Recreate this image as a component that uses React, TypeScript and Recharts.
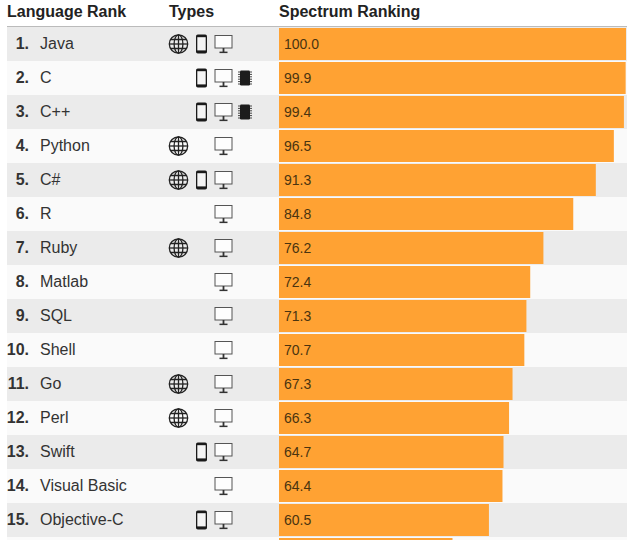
import React from 'react';
import { BarChart, Bar, XAxis, YAxis, LabelList, Customized } from 'recharts';

const languages = ['Java','C','C++','Python','C#','R','Ruby','Matlab','SQL','Shell','Go','Perl','Swift','Visual Basic','Objective-C',''];
const scores = [100.0,99.9,99.4,96.5,91.3,84.8,76.2,72.4,71.3,70.7,67.3,66.3,64.7,64.4,60.5,50.0];
const webFlags = [1,0,0,1,1,0,1,0,0,0,1,1,0,0,0,0];
const mobileFlags = [1,1,1,0,1,0,0,0,0,0,0,0,1,0,1,0];
const desktopFlags = [1,1,1,1,1,1,1,1,1,1,1,1,1,1,1,0];
const chipFlags = [0,1,1,0,0,0,0,0,0,0,0,0,0,0,0,0];
const headers = [
  { label: 'Language Rank', x: 7 },
  { label: 'Types', x: 169 },
  { label: 'Spectrum Ranking', x: 279 },
];

const rows = languages.map((name, i) => ({
  key: String(i + 1), rank: i + 1, name, score: scores[i],
  valueLabel: name ? scores[i].toFixed(1) : '',
  web: webFlags[i], mobile: mobileFlags[i], desktop: desktopFlags[i], chip: chipFlags[i],
}));

const FONT = '"Liberation Sans", Arial, sans-serif';
const INK = '#333333';

const Globe = ({ cx, cy }: any) => (
  <g transform={`translate(${cx},${cy})`} fill="none" stroke="#222" strokeWidth={1.3}>
    <circle r={9.2} />
    <ellipse rx={4.4} ry={9.2} />
    <line x1={0} y1={-9.2} x2={0} y2={9.2} />
    <line x1={-9.2} y1={0} x2={9.2} y2={0} />
    <path d="M-8 -4.5 H8 M-8 4.5 H8" />
  </g>
);
const Phone = ({ cx, cy }: any) => (
  <g transform={`translate(${cx},${cy})`}>
    <rect x={-5.5} y={-9.5} width={11} height={19} rx={1.8} fill="#1a1a1a" />
    <rect x={-4.2} y={-6.8} width={8.4} height={13.2} fill="#f4f4f4" />
  </g>
);
const Monitor = ({ cx, cy }: any) => (
  <g transform={`translate(${cx},${cy})`}>
    <rect x={-8.5} y={-8.5} width={17} height={12.5} fill="#fdfdfd" stroke="#555" strokeWidth={1} />
    <rect x={-0.9} y={4} width={1.8} height={4} fill="#333" />
    <rect x={-4} y={7.6} width={8} height={1.5} fill="#333" />
  </g>
);
const Chip = ({ cx, cy }: any) => (
  <g transform={`translate(${cx},${cy})`}>
    <rect x={-5} y={-7.5} width={10} height={15} rx={1.2} fill="#1c1c1c" />
    <path d="M-7 -6 H7 M-7 -3.6 H7 M-7 -1.2 H7 M-7 1.2 H7 M-7 3.6 H7 M-7 6 H7" stroke="#333" strokeWidth={0.9} strokeDasharray="2 10" />
  </g>
);

const RowBackground = ({ y, height, index }: any) => (
  <rect x={7} y={y - 1} width={620} height={height + 2} fill={index % 2 === 0 ? '#ebebeb' : '#fafafa'} />
);

const RowTick = ({ y, payload, index }: any) => {
  const row = rows[index] ?? rows.find((r) => r.key === payload.value);
  if (!row || !row.name) return null;
  const cy = y;
  return (
    <g>
      <text x={29} y={cy + 5} textAnchor="end" fontFamily={FONT} fontSize={16} fontWeight={700} fill={INK}>{row.rank}.</text>
      <text x={40} y={cy + 5} fontFamily={FONT} fontSize={16} fill={INK}>{row.name}</text>
      {row.web ? <Globe cx={178.5} cy={cy} /> : null}
      {row.mobile ? <Phone cx={201.5} cy={cy} /> : null}
      {row.desktop ? <Monitor cx={223.5} cy={cy} /> : null}
      {row.chip ? <Chip cx={245} cy={cy} /> : null}
    </g>
  );
};

const Header = () => (
  <g>
    {headers.map((h) => (
      <text key={h.label} x={h.x} y={17} fontFamily={FONT} fontSize={16} fontWeight={700} fill="#222">{h.label}</text>
    ))}
    <rect x={7} y={26} width={620} height={1} fill="#bbbbbb" />
  </g>
);

export default function App() {
  return (
    <div style={{ position: 'absolute', left: 0, top: 0, width: 634, height: 540, overflow: 'hidden', background: '#fff' }}>
      <BarChart
        width={634}
        height={571}
        data={rows}
        layout="vertical"
        barCategoryGap={1}
        margin={{ top: 27, right: 8, bottom: 0, left: 0 }}
      >
        <XAxis type="number" domain={[0, 100]} hide />
        <YAxis
          type="category"
          dataKey="key"
          width={279}
          axisLine={false}
          tickLine={false}
          interval={0}
          tick={<RowTick />}
        />
        <Customized component={Header} />
        <Bar dataKey="score" fill="#FFA233" isAnimationActive={false} background={<RowBackground />}>
          <LabelList
            dataKey="valueLabel"
            position="insideLeft"
            offset={5}
            fill="#4a3410"
            fontFamily={FONT}
            fontSize={14}
          />
        </Bar>
      </BarChart>
    </div>
  );
}
